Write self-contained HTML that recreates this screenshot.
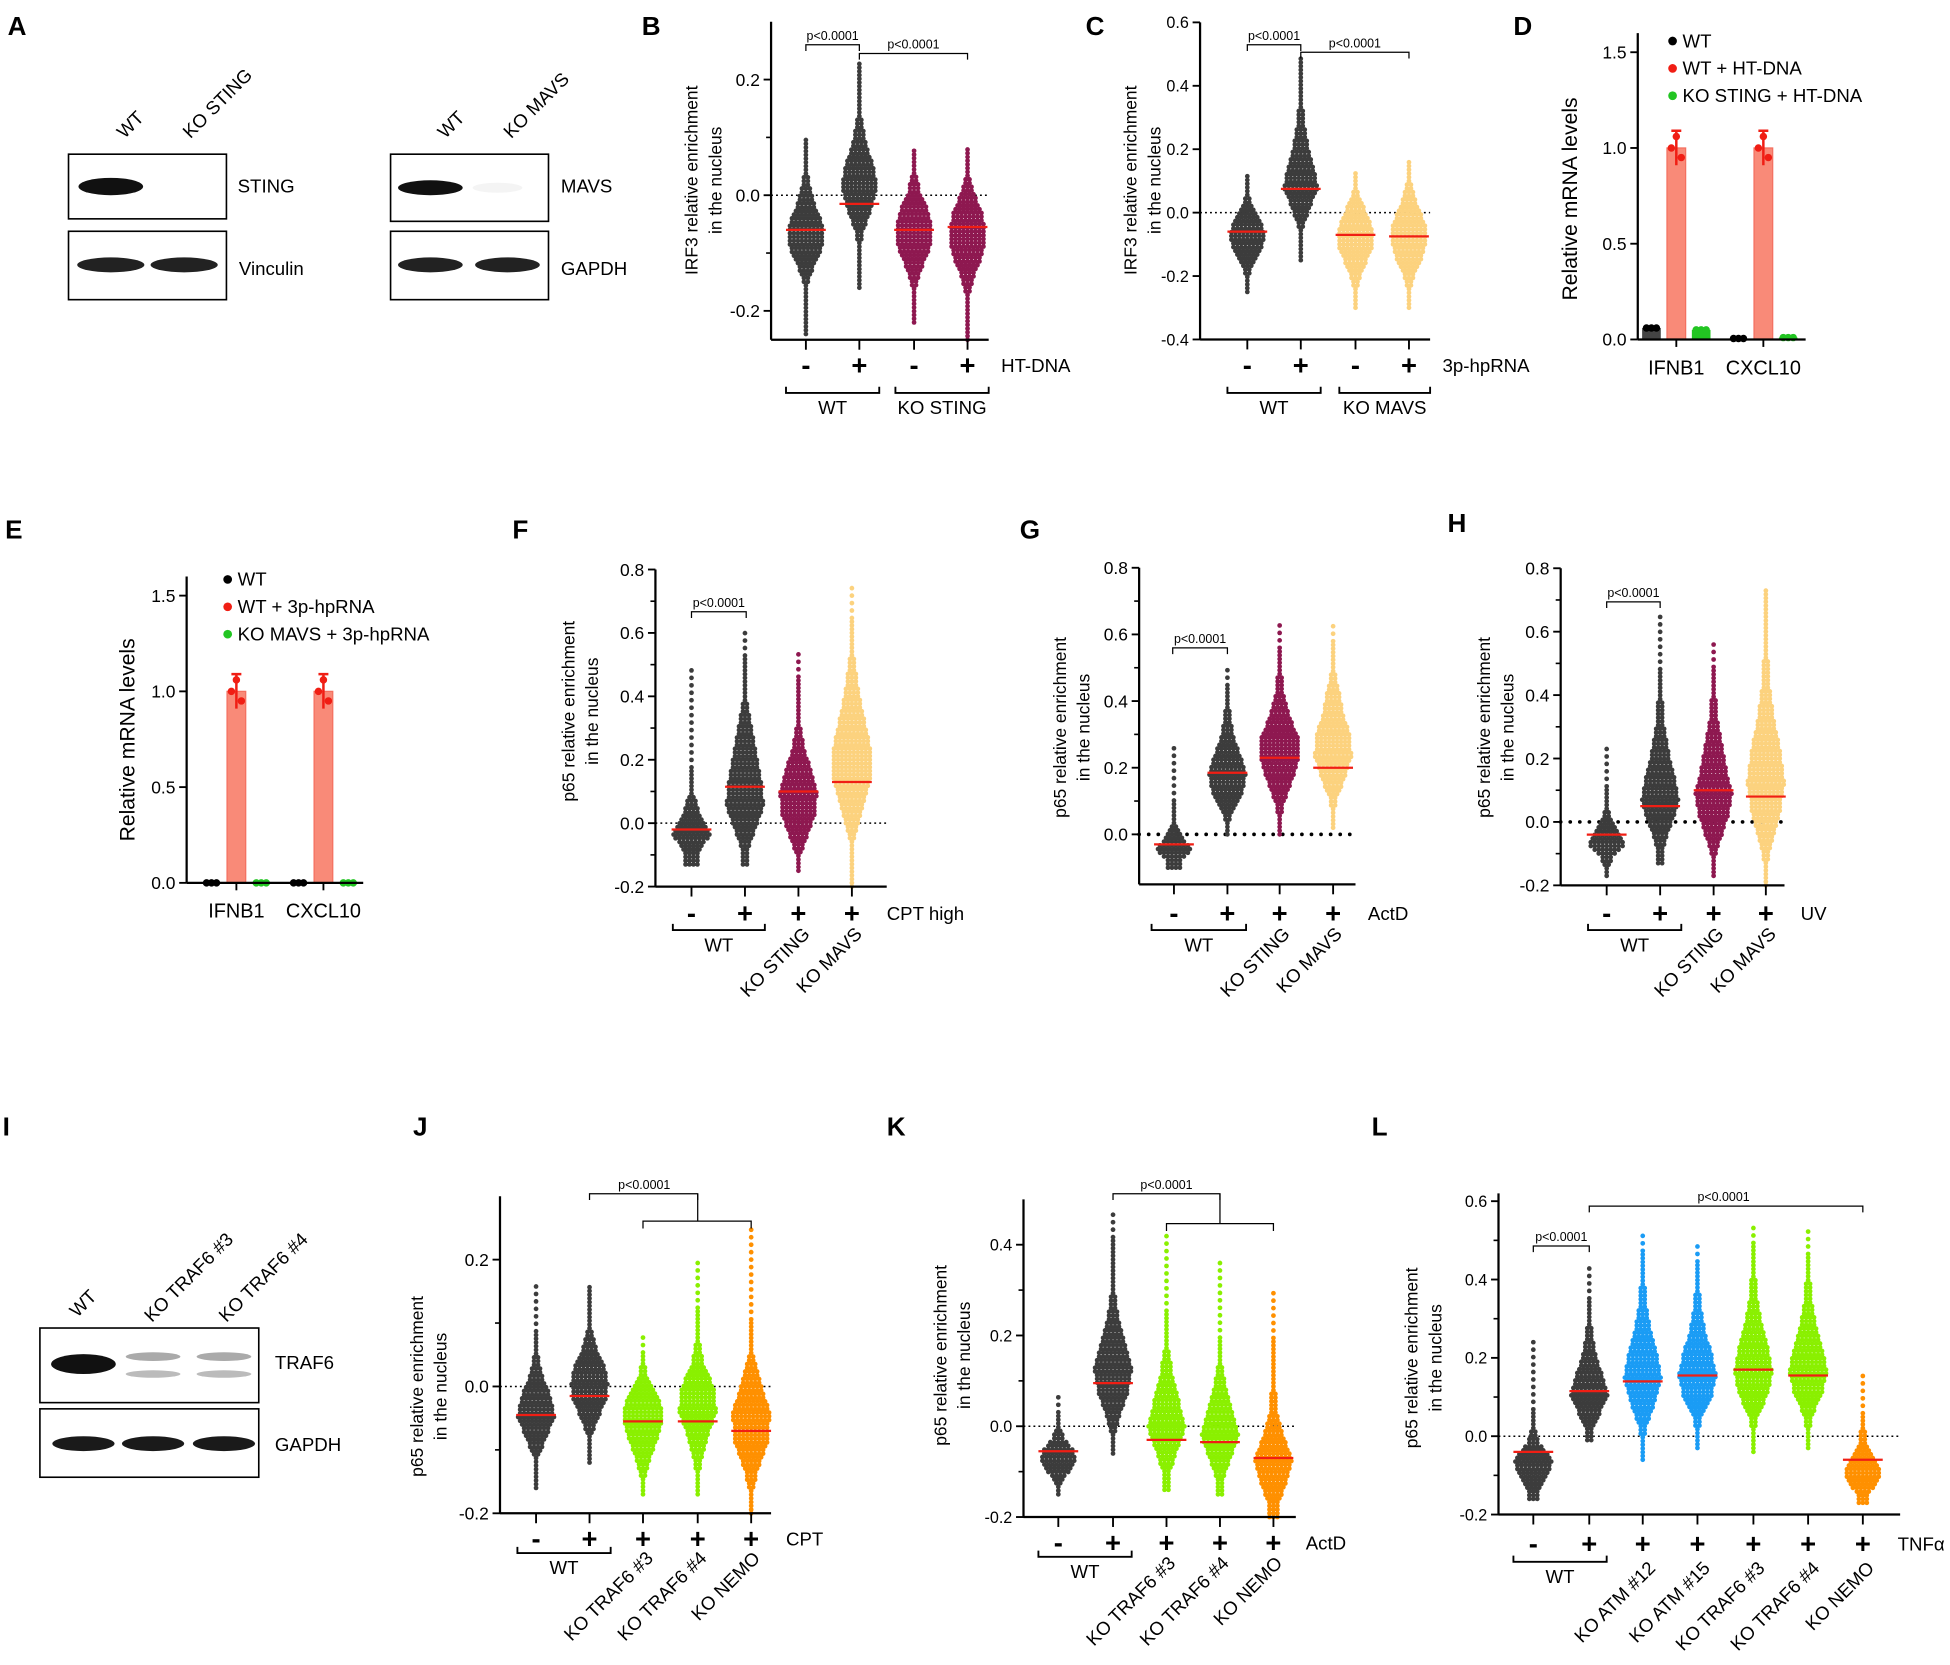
<!DOCTYPE html>
<html><head><meta charset="utf-8">
<style>
html,body{margin:0;padding:0;background:#fff;}
svg{display:block;font-family:"Liberation Sans",Arial,sans-serif;}
</style></head>
<body>
<svg id="fig" width="1950" height="1665" viewBox="0 0 1568 1339" xmlns="http://www.w3.org/2000/svg">
<g font-weight="bold" font-size="21" fill="#000">
<text x="6" y="28">A</text>
<text x="516" y="28">B</text>
<text x="873" y="28">C</text>
<text x="1217" y="28">D</text>
<text x="4" y="433">E</text>
<text x="412" y="433">F</text>
<text x="820" y="433">G</text>
<text x="1164" y="428">H</text>
<text x="2" y="913">I</text>
<text x="332" y="913">J</text>
<text x="713" y="913">K</text>
<text x="1103" y="913">L</text>
</g>

<g font-size="15">
<text transform="translate(100,112) rotate(-45)">WT</text>
<text transform="translate(153,112) rotate(-45)">KO STING</text>
<rect x="55" y="124" width="127" height="52" fill="#fff" stroke="#000" stroke-width="1.3"/>
<rect x="55" y="186" width="127" height="55" fill="#fff" stroke="#000" stroke-width="1.3"/>
<ellipse cx="89" cy="150" rx="26" ry="7" fill="#111"/>
<ellipse cx="89" cy="213" rx="27" ry="6" fill="#222"/>
<ellipse cx="148" cy="213" rx="27" ry="6" fill="#222"/>
<text x="191" y="155">STING</text><text x="192" y="221">Vinculin</text>
</g>
<g font-size="15">
<text transform="translate(358,112) rotate(-45)">WT</text>
<text transform="translate(411,112) rotate(-45)">KO MAVS</text>
<rect x="314" y="124" width="127" height="54" fill="#fff" stroke="#000" stroke-width="1.3"/>
<rect x="314" y="186" width="127" height="55" fill="#fff" stroke="#000" stroke-width="1.3"/>
<ellipse cx="346" cy="151" rx="26" ry="6" fill="#111"/>
<ellipse cx="400" cy="151" rx="20" ry="4" fill="#f4f4f4"/>
<ellipse cx="346" cy="213" rx="26" ry="6" fill="#222"/>
<ellipse cx="408" cy="213" rx="26" ry="6" fill="#222"/>
<text x="451" y="155">MAVS</text><text x="451" y="221">GAPDH</text>
</g>

<g font-size="15">
<text transform="translate(62,1060) rotate(-45)">WT</text>
<text transform="translate(122,1064) rotate(-45)">KO TRAF6 #3</text>
<text transform="translate(182,1064) rotate(-45)">KO TRAF6 #4</text>
<rect x="32" y="1068" width="176" height="60" fill="#fff" stroke="#000" stroke-width="1.3"/>
<rect x="32" y="1133" width="176" height="55" fill="#fff" stroke="#000" stroke-width="1.3"/>
<ellipse cx="67" cy="1097" rx="26" ry="8" fill="#111"/>
<ellipse cx="123" cy="1091" rx="22" ry="3.5" fill="#aaa"/>
<ellipse cx="123" cy="1105" rx="22" ry="3" fill="#bbb"/>
<ellipse cx="180" cy="1091" rx="22" ry="3.5" fill="#aaa"/>
<ellipse cx="180" cy="1105" rx="22" ry="3" fill="#bbb"/>
<ellipse cx="67" cy="1161" rx="25" ry="6" fill="#1a1a1a"/>
<ellipse cx="123" cy="1161" rx="25" ry="6" fill="#1a1a1a"/>
<ellipse cx="180" cy="1161" rx="25" ry="6" fill="#1a1a1a"/>
<text x="221" y="1101">TRAF6</text><text x="221" y="1167">GAPDH</text>
</g>
</svg>
<script>
// ===== Data arrays =====
const B_groups=["WT -","WT +","KO STING -","KO STING +"];
const B_medians=[-0.06,-0.015,-0.06,-0.055];
const B_min=[-0.24,-0.16,-0.22,-0.25];
const B_max=[0.1,0.23,0.08,0.08];
const B_density=[[1,1,2,5,10,10,6,3,1,1],[1,1,3,7,10,8,4,2,1,1],[1,1,3,6,10,10,8,4,2,1],[1,1,2,5,9,10,9,5,2,1]];
const B_ticks=[-0.2,0,0.2];
const C_groups=["WT -","WT +","KO MAVS -","KO MAVS +"];
const C_medians=[-0.06,0.075,-0.07,-0.075];
const C_min=[-0.25,-0.15,-0.3,-0.3];
const C_max=[0.12,0.49,0.13,0.16];
const C_density=[[1,2,4,8,10,9,6,3,1,1],[1,2,5,10,8,5,3,2,1,1],[1,2,4,7,10,10,8,5,2,1],[1,2,4,8,10,10,7,4,2,1]];
const C_ticks=[-0.4,-0.2,0,0.2,0.4,0.6];
const D_genes=["IFNB1","CXCL10"];
const D_wt=[0.06,0.005];
const D_wtdna=[1.0,1.0];
const D_kodna=[0.05,0.01];
const D_ticks=[0,0.5,1.0,1.5];
const E_genes=["IFNB1","CXCL10"];
const E_wt=[0.0,0.0];
const E_wtrna=[1.0,1.0];
const E_korna=[0.0,0.0];
const E_ticks=[0,0.5,1.0,1.5];
const F_medians=[-0.02,0.115,0.1,0.13];
const F_min=[-0.13,-0.13,-0.15,-0.2];
const F_max=[0.5,0.6,0.55,0.76];
const F_density=[[4,10,5,2,1,0.5,0.5,0.5,0.5,0.5],[2,6,10,9,7,5,3,1,1,0.5],[1,5,9,10,7,4,2,1,1,0.5],[1,2,6,10,10,7,4,2,1,0.5]];
const F_ticks=[-0.2,0,0.2,0.4,0.6,0.8];
const G_medians=[-0.03,0.185,0.23,0.2];
const G_min=[-0.1,0,0,0.02];
const G_max=[0.26,0.5,0.64,0.64];
const G_density=[[4,10,5,2,1,1,0.5,0.5,0.5,0.5],[1,4,8,10,8,5,3,2,1,0.5],[1,3,7,10,10,6,3,2,1,0.5],[1,3,7,10,9,6,4,2,1,0.5]];
const G_ticks=[0,0.2,0.4,0.6,0.8];
const H_medians=[-0.04,0.05,0.1,0.08];
const H_min=[-0.17,-0.13,-0.17,-0.2];
const H_max=[0.23,0.65,0.58,0.74];
const H_density=[[1,4,10,6,3,1,1,0.5,0.5,0.5],[2,6,10,8,5,3,2,1,0.5,0.5],[1,4,8,10,7,5,3,2,1,0.5],[1,4,8,10,8,5,3,2,1,1]];
const H_ticks=[-0.2,0,0.2,0.4,0.6,0.8];
const J_medians=[-0.045,-0.015,-0.055,-0.055,-0.07];
const J_min=[-0.16,-0.12,-0.17,-0.17,-0.2];
const J_max=[0.16,0.16,0.08,0.2,0.25];
const J_density=[[1,2,6,10,8,4,2,1,0.5,0.5],[1,2,5,9,10,8,4,2,1,1],[1,3,5,8,10,10,7,3,1,0.5],[1,3,6,10,9,4,2,1,0.5,0.5],[1,4,9,10,6,2,1,0.5,0.5,0.5]];
const J_ticks=[-0.2,0,0.2];
const K_medians=[-0.055,0.095,-0.03,-0.035,-0.07];
const K_min=[-0.15,-0.06,-0.14,-0.15,-0.2];
const K_max=[0.07,0.47,0.42,0.36,0.3];
const K_density=[[1,3,7,10,8,4,2,1,0.5,0.5],[1,4,8,10,7,4,2,1,1,0.5],[2,6,10,7,4,2,1,0.5,0.5,0.5],[2,6,10,7,4,2,1,0.5,0.5,0.5],[3,7,10,6,3,2,1,1,0.5,0.5]];
const K_ticks=[-0.2,0,0.2,0.4];
const L_medians=[-0.04,0.115,0.14,0.155,0.17,0.155,-0.06];
const L_min=[-0.16,-0.01,-0.06,-0.03,-0.04,-0.03,-0.17];
const L_max=[0.24,0.44,0.53,0.5,0.55,0.53,0.16];
const L_density=[[3,8,10,4,2,1,0.5,0.5,0.5,0.5],[2,6,10,8,5,3,2,1,0.5,0.5],[1,3,7,10,8,5,3,2,1,0.5],[1,3,8,10,8,5,3,2,1,0.5],[1,3,8,10,8,5,3,2,1,0.5],[1,3,8,10,8,5,3,2,1,0.5],[3,8,10,6,3,2,1,0.5,0.5,0.5]];
const L_ticks=[-0.2,0,0.2,0.4,0.6];

// ===== Drawing =====
const NS="http://www.w3.org/2000/svg";
const svg=document.getElementById('fig');
function el(tag,attrs,parent,txt){const e=document.createElementNS(NS,tag);for(const k in attrs)e.setAttribute(k,attrs[k]);if(txt!==undefined)e.textContent=txt;(parent||svg).appendChild(e);return e;}
function fmt(v,dec){return (v<0?"-":"")+Math.abs(v).toFixed(dec);}

function axisY(g,ax,yOf,ticks,vmin,vmax,dec,minor,tf){
  el('line',{x1:ax,x2:ax,y1:yOf(vmax),y2:yOf(vmin),stroke:'#000','stroke-width':1.8},g);
  ticks.forEach(t=>{
    el('line',{x1:ax-6,x2:ax,y1:yOf(t),y2:yOf(t),stroke:'#000','stroke-width':1.5},g);
    const tx=el('text',{x:ax-9,y:yOf(t)+(tf||14)*0.36,'text-anchor':'end','font-size':tf||14},g,fmt(t,dec));
    
    
  });
  if(minor){for(let i=0;i<ticks.length;i++){const m=ticks[i]+minor;if(m<vmax)el('line',{x1:ax-4,x2:ax,y1:yOf(m),y2:yOf(m),stroke:'#000','stroke-width':1.3},g);}}
}

function swarmPanel(cfg){
  const g=el('g',{});
  
  
  const yOf=v=>cfg.y0-v*cfg.ppu;
  const xOf=i=>cfg.gx[i];
  const bottom=yOf(cfg.vmin);
  el('line',{x1:cfg.ax,x2:cfg.xend,y1:yOf(0),y2:yOf(0),stroke:'#000','stroke-width':cfg.boldZero?3:1.2,'stroke-linecap':cfg.boldZero?'round':'butt','stroke-dasharray':cfg.boldZero?'0 7.7':'1.5 2.5'},g);
  cfg.med.forEach((m,i)=>{
    const mn=cfg.min[i],mx=cfg.max[i],dens=cfg.dens[i];
    const pmin=yOf(mn),pmax=yOf(mx);
    const nb=dens.length;
    let row=0;
    for(let y=pmin;y>=pmax-0.1;y-=3.0,row++){
      const f=(pmin-y)/(pmin-pmax)*nb-0.5;
      const k=Math.max(0,Math.min(nb-1,Math.floor(f)));
      const k2=Math.min(nb-1,k+1);
      const t=Math.max(0,Math.min(1,f-k));
      const d=dens[k]*(1-t)+dens[k2]*t;
      const hw=Math.max(0,d-1.5)/8.5*cfg.wmax;
      const n=Math.round(hw/1.6);
      if(n===0){
        if(d<0.8 && row%2===1) continue;
        el('circle',{cx:xOf(i),cy:y,r:1.9,fill:cfg.colors[i]},g);continue;}
      el('line',{x1:xOf(i)-n*1.6,x2:xOf(i)+n*1.6+0.01,y1:y,y2:y,stroke:cfg.colors[i],'stroke-width':3.8,'stroke-linecap':'round','stroke-dasharray':'0 3.2'},g);
    }
    const ml=el('line',{x1:xOf(i)-cfg.mw,x2:xOf(i)+cfg.mw,y1:yOf(m),y2:yOf(m),stroke:'#f01e14','stroke-width':1.8},g);
    
    
  });
  axisY(g,cfg.ax,yOf,cfg.ticks,cfg.vmin,cfg.vmax,cfg.dec,cfg.minor,cfg.tf);
  el('line',{x1:cfg.ax,x2:cfg.xend,y1:bottom,y2:bottom,stroke:'#000','stroke-width':1.8},g);
  cfg.gx.forEach((x,i)=>{
    el('line',{x1:x,x2:x,y1:bottom,y2:bottom+8,stroke:'#000','stroke-width':1.5},g);
    el('text',{x:x,y:cfg.signY,'text-anchor':'middle','font-size':22,'font-weight':'bold'},g,cfg.signs[i]);
  });
  el('text',{x:cfg.treatX,y:cfg.signY-2,'font-size':15},g,cfg.treat);
  cfg.brackets.forEach(b=>{
    el('path',{d:`M${b[0]},${b[2]-5}V${b[2]}H${b[1]}V${b[2]-5}`,fill:'none',stroke:'#000','stroke-width':1.5},g);
    el('text',{x:(b[0]+b[1])/2,y:b[2]+17,'text-anchor':'middle','font-size':15},g,b[3]);
  });
  (cfg.rot||[]).forEach(r=>{el('text',{transform:`translate(${r[0]},${r[1]}) rotate(-45)`,'text-anchor':'end','font-size':15},g,r[2]);});
  (cfg.pv||[]).forEach(p=>{
    el('path',{d:`M${p[0]},${p[2]+5}V${p[2]}H${p[1]}V${p[2]+5}`,fill:'none',stroke:'#000','stroke-width':1},g);
    el('text',{x:p[3]!==undefined?p[3]:(p[0]+p[1])/2,y:p[2]-4,'text-anchor':'middle','font-size':10},g,'p<0.0001');
  });
  (cfg.extra||[]).forEach(d=>el('path',{d:d,fill:'none',stroke:'#000','stroke-width':1},g));
  el('text',{transform:`translate(${cfg.ylx},${cfg.yly}) rotate(-90)`,'text-anchor':'middle','font-size':14},g,cfg.ylab1);
  el('text',{transform:`translate(${cfg.ylx+19},${cfg.yly}) rotate(-90)`,'text-anchor':'middle','font-size':14},g,cfg.ylab2);
}

const DK='#3c3c3c',MR='#8e1850',LO='#fcd27e',LG='#8af000',OR='#ff9000',BL='#1a9cf5';

swarmPanel({name:'panel-b-irf3-chart',y0:157,ppu:465,vmin:-0.25,vmax:0.3,ax:620,xend:795,gx:[648,691,735,778],
 med:B_medians,min:B_min,max:B_max,dens:B_density,colors:[DK,DK,MR,MR],wmax:13,mw:16,ticks:B_ticks,dec:1,minor:0.1,tf:14,
 signY:301,signs:['-','+','-','+'],treat:'HT-DNA',treatX:805,brackets:[[632,707,316,'WT'],[720,795,316,'KO STING']],
 pv:[[648,691,36],[691,778,43]],ylx:561,yly:145,ylab1:'IRF3 relative enrichment',ylab2:'in the nucleus'});

swarmPanel({name:'panel-c-irf3-chart',y0:171,ppu:255,vmin:-0.4,vmax:0.6,ax:965,xend:1150,gx:[1003,1046,1090,1133],
 med:C_medians,min:C_min,max:C_max,dens:C_density,colors:[DK,DK,LO,LO],wmax:13,mw:16,ticks:C_ticks,dec:1,tf:13,
 signY:301,signs:['-','+','-','+'],treat:'3p-hpRNA',treatX:1160,brackets:[[987,1062,316,'WT'],[1077,1150,316,'KO MAVS']],
 pv:[[1003,1046,36],[1046,1133,42]],ylx:914,yly:145,ylab1:'IRF3 relative enrichment',ylab2:'in the nucleus'});

swarmPanel({name:'panel-f-p65-cpt-chart',y0:662,ppu:255,vmin:-0.2,vmax:0.8,ax:527,xend:713,gx:[556,599,642,685],
 med:F_medians,min:F_min,max:F_max,dens:F_density,colors:[DK,DK,MR,LO],wmax:14,mw:16,ticks:F_ticks,dec:1,minor:0.1,
 signY:742,signs:['-','+','+','+'],treat:'CPT high',treatX:713,brackets:[[541,615,748,'WT']],
 rot:[[652,752,'KO STING'],[694,752,'KO MAVS']],
 pv:[[556,600,492]],ylx:462,yly:572,ylab1:'p65 relative enrichment',ylab2:'in the nucleus'});

swarmPanel({name:'panel-g-p65-actd-chart',y0:671,ppu:268,vmin:-0.15,vmax:0.8,ax:916,xend:1090,gx:[944,987,1029,1072],
 med:G_medians,min:G_min,max:G_max,dens:G_density,colors:[DK,DK,MR,LO],wmax:14,mw:16,ticks:G_ticks,dec:1,minor:0.1,boldZero:true,
 signY:742,signs:['-','+','+','+'],treat:'ActD',treatX:1100,brackets:[[926,1002,748,'WT']],
 rot:[[1038,752,'KO STING'],[1080,752,'KO MAVS']],
 pv:[[943,987,521]],ylx:857,yly:585,ylab1:'p65 relative enrichment',ylab2:'in the nucleus'});

swarmPanel({name:'panel-h-p65-uv-chart',y0:661,ppu:255,vmin:-0.2,vmax:0.8,ax:1255,xend:1435,gx:[1292,1335,1378,1420],
 med:H_medians,min:H_min,max:H_max,dens:H_density,colors:[DK,DK,MR,LO],wmax:14,mw:16,ticks:H_ticks,dec:1,minor:0.1,boldZero:true,
 signY:742,signs:['-','+','+','+'],treat:'UV',treatX:1448,brackets:[[1277,1352,748,'WT']],
 rot:[[1387,752,'KO STING'],[1429,752,'KO MAVS']],
 pv:[[1292,1335,484]],ylx:1198,yly:585,ylab1:'p65 relative enrichment',ylab2:'in the nucleus'});

swarmPanel({name:'panel-j-p65-cpt-chart',y0:1115,ppu:510,vmin:-0.2,vmax:0.3,ax:402,xend:620,gx:[431,474,517,561,604],
 med:J_medians,min:J_min,max:J_max,dens:J_density,colors:[DK,DK,LG,LG,OR],wmax:14,mw:16,ticks:J_ticks,dec:1,minor:0.1,
 signY:1245,signs:['-','+','+','+','+'],treat:'CPT',treatX:632,brackets:[[416,491,1249,'WT']],
 rot:[[526,1254,'KO TRAF6 #3'],[569,1254,'KO TRAF6 #4'],[612,1254,'KO NEMO']],
 pv:[[474,561,960,518]],extra:['M561,960V982','M517,988V982H604V988'],ylx:340,yly:1115,ylab1:'p65 relative enrichment',ylab2:'in the nucleus'});

swarmPanel({name:'panel-k-p65-actd-chart',y0:1147,ppu:365,vmin:-0.2,vmax:0.5,ax:823,xend:1042,gx:[851,895,938,981,1024],
 med:K_medians,min:K_min,max:K_max,dens:K_density,colors:[DK,DK,LG,LG,OR],wmax:14,mw:16,ticks:K_ticks,dec:1,minor:0.1,tf:13,
 signY:1248,signs:['-','+','+','+','+'],treat:'ActD',treatX:1050,brackets:[[835,910,1252,'WT']],
 rot:[[946,1258,'KO TRAF6 #3'],[989,1258,'KO TRAF6 #4'],[1032,1258,'KO NEMO']],
 pv:[[895,981,960,938]],extra:['M981,960V984','M938,990V984H1024V990'],ylx:761,yly:1090,ylab1:'p65 relative enrichment',ylab2:'in the nucleus'});

swarmPanel({name:'panel-l-p65-tnfa-chart',y0:1155,ppu:315,vmin:-0.2,vmax:0.62,ax:1205,xend:1528,gx:[1233,1278,1321,1365,1410,1454,1498],
 med:L_medians,min:L_min,max:L_max,dens:L_density,colors:[DK,DK,BL,BL,LG,LG,OR],wmax:14,mw:16,ticks:L_ticks,dec:1,minor:0.1,tf:13,
 signY:1249,signs:['-','+','+','+','+','+','+'],treat:'TNFα',treatX:1526,brackets:[[1217,1292,1256,'WT']],
 rot:[[1332,1262,'KO ATM #12'],[1376,1262,'KO ATM #15'],[1420,1262,'KO TRAF6 #3'],[1464,1262,'KO TRAF6 #4'],[1508,1262,'KO NEMO']],
 pv:[[1233,1278,1002],[1278,1498,970,1386]],ylx:1140,yly:1092,ylab1:'p65 relative enrichment',ylab2:'in the nucleus'});

function barPanel(cfg){
  const g=el('g',{});
  
  
  const yOf=v=>cfg.y0-v*cfg.ppu;
  axisY(g,cfg.ax,yOf,cfg.ticks,0,1.6,1,0,14);
  const series=[cfg.s1,cfg.s2,cfg.s3],cols=['#444','#f98a78','#22c522'],dots=['#000','#f01e14','#22c522'];
  cfg.genes.forEach((gname,i)=>{
    series.forEach((s,j)=>{
      const x=cfg.gx[i]+(j-1)*20;
      const b=el('rect',{x:x-7.5,y:yOf(s[i]),width:15,height:Math.max(0,yOf(0)-yOf(s[i])),fill:cols[j],stroke:j===1?'#f47060':'none'},g);
      
      
      if(j===1){el('path',{d:`M${x},${yOf(s[i]*1.09)}V${yOf(s[i]*0.91)}M${x-4},${yOf(s[i]*1.09)}H${x+4}`,stroke:'#f01e14','stroke-width':2,fill:'none'},g);}
      [-4,0,4].forEach((dx,k)=>el('circle',{cx:x+dx,cy:yOf(s[i]*(j===1?[1.0,1.06,0.95][k]:1)),r:3,fill:dots[j]},g));
    });
    el('line',{x1:cfg.gx[i],x2:cfg.gx[i],y1:yOf(0),y2:yOf(0)+6,stroke:'#000','stroke-width':1.5},g);
    el('text',{x:cfg.gx[i],y:yOf(0)+28,'text-anchor':'middle','font-size':16},g,gname);
  });
  el('line',{x1:cfg.ax,x2:cfg.xend,y1:yOf(0),y2:yOf(0),stroke:'#000','stroke-width':1.8},g);
  cfg.leg.forEach((t,j)=>{
    el('circle',{cx:cfg.lx,cy:cfg.ly+j*22-5,r:3.5,fill:dots[j]},g);
    el('text',{x:cfg.lx+8,y:cfg.ly+j*22,'font-size':15},g,t);
  });
  el('text',{transform:`translate(${cfg.ylx},${cfg.yly}) rotate(-90)`,'text-anchor':'middle','font-size':17},g,'Relative mRNA levels');
}
barPanel({name:'panel-d-mrna-chart',y0:273,ppu:154,ax:1317,xend:1452,gx:[1348,1418],genes:D_genes,s1:D_wt,s2:D_wtdna,s3:D_kodna,ticks:D_ticks,
 leg:['WT','WT + HT-DNA','KO STING + HT-DNA'],lx:1345,ly:38,ylx:1268,yly:160});
barPanel({name:'panel-e-mrna-chart',y0:710,ppu:154,ax:150,xend:292,gx:[190,260],genes:E_genes,s1:E_wt,s2:E_wtrna,s3:E_korna,ticks:E_ticks,
 leg:['WT','WT + 3p-hpRNA','KO MAVS + 3p-hpRNA'],lx:183,ly:471,ylx:108,yly:595});
</script>
</body></html>
